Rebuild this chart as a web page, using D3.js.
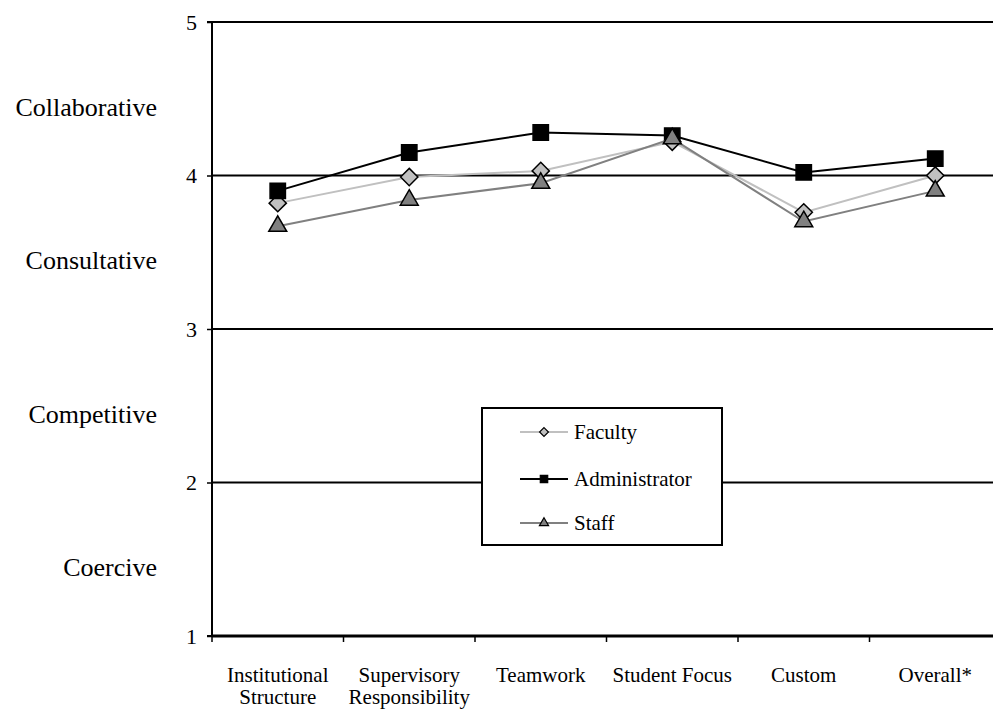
<!DOCTYPE html>
<html>
<head>
<meta charset="utf-8">
<script src="https://cdn.jsdelivr.net/npm/d3@7"></script>
<style>
  html, body { margin: 0; padding: 0; background: #fff; }
  svg text { font-family: "Liberation Serif", "Times New Roman", Times, "DejaVu Serif", serif !important; }
</style>
</head>
<body>
<svg id="chart" width="993" height="711"></svg>
<script>
const categories = ["Institutional Structure", "Supervisory Responsibility", "Teamwork", "Student Focus", "Custom", "Overall*"];
const categoryLines = [["Institutional", "Structure"], ["Supervisory", "Responsibility"], ["Teamwork"], ["Student Focus"], ["Custom"], ["Overall*"]];
const faculty = [3.82, 3.99, 4.03, 4.22, 3.76, 4.00];
const administrator = [3.90, 4.15, 4.28, 4.26, 4.02, 4.11];
const staff = [3.67, 3.84, 3.95, 4.24, 3.70, 3.90];
const yTicks = [1, 2, 3, 4, 5];
const levelLabels = ["Coercive", "Competitive", "Consultative", "Collaborative"];
const levelValues = [1, 2, 3, 4];
const seriesNames = ["Faculty", "Administrator", "Staff"];

const FONT = '"Liberation Serif", "Times New Roman", Times, "DejaVu Serif", serif';
const svg = d3.select("#chart");
const x = d3.scaleBand().domain(categories).range([212, 1001]).padding(0);
const y = d3.scaleLinear().domain([1, 5]).range([636, 22]);

const series = [
  { name: seriesNames[0], values: faculty, line: "#c0c0c0", fill: "#c0c0c0", shape: d3.symbolDiamond2 },
  { name: seriesNames[1], values: administrator, line: "#000000", fill: "#000000", shape: d3.symbolSquare2 },
  { name: seriesNames[2], values: staff, line: "#808080", fill: "#808080", shape: d3.symbolTriangle2 }
];

// gridlines
svg.append("g").selectAll("line").data(yTicks.filter(d => d > 1)).join("line")
  .attr("x1", x.range()[0]).attr("x2", x.range()[1])
  .attr("y1", d => y(d)).attr("y2", d => y(d))
  .attr("stroke", "#000").attr("stroke-width", 2);

// y axis
const yAxis = d3.axisLeft(y).tickValues(yTicks).tickFormat(d3.format("d")).tickSize(5).tickPadding(10);
const yg = svg.append("g").attr("transform", `translate(${x.range()[0]},0)`).call(yAxis)
  .attr("font-family", FONT).attr("font-size", 22);
yg.select(".domain").attr("stroke", "#000").attr("stroke-width", 2).attr("d", `M-5,${y(5)}H0V${y(1)}H-5`);
yg.selectAll(".tick line").attr("stroke", "#000").attr("stroke-width", 1.5);
yg.selectAll(".tick text").attr("fill", "#000");

// level labels
svg.append("g").attr("font-family", FONT).selectAll("text").data(levelValues).join("text")
  .attr("x", 157).attr("y", d => y(d + 0.5) + 17)
  .attr("text-anchor", "end").attr("font-size", 26).attr("fill", "#000")
  .text((d, i) => levelLabels[i]);

// x axis
const xg = svg.append("g").attr("transform", `translate(0,${y(1)})`).attr("font-family", FONT);
xg.append("line").attr("x1", x.range()[0]).attr("x2", x.range()[1]).attr("y1", 0).attr("y2", 0)
  .attr("stroke", "#000").attr("stroke-width", 3);
xg.selectAll("line.tk").data(categories).join("line").attr("class", "tk")
  .attr("x1", d => x(d)).attr("x2", d => x(d)).attr("y1", 0).attr("y2", 6)
  .attr("stroke", "#000").attr("stroke-width", 1.5);
const lab = xg.selectAll("text").data(categories).join("text")
  .attr("text-anchor", "middle").attr("font-size", 21).attr("fill", "#000")
  .attr("transform", d => `translate(${x(d) + x.bandwidth() / 2},0)`);
lab.each(function(d, i) {
  const t = d3.select(this);
  categoryLines[i].forEach((ln, j) => {
    t.append("tspan").attr("x", 0).attr("y", 46 + j * 21.5).text(ln);
  });
});

// series lines and markers
const lineGen = d3.line().x((d, i) => x(categories[i]) + x.bandwidth() / 2).y(d => y(d));
series.forEach(s => {
  svg.append("path").datum(s.values).attr("d", lineGen)
    .attr("fill", "none").attr("stroke", s.line).attr("stroke-width", 2);
  svg.append("g").selectAll("path").data(s.values).join("path")
    .attr("d", d3.symbol().type(s.shape).size(s.shape === d3.symbolTriangle2 ? 230 : (s.shape === d3.symbolDiamond2 ? 190 : 300)))
    .attr("transform", (d, i) => `translate(${x(categories[i]) + x.bandwidth() / 2},${y(d)})`)
    .attr("fill", s.fill).attr("stroke", "#000").attr("stroke-width", 1.5);
});

// legend
const lg = svg.append("g").attr("transform", "translate(482,408)").attr("font-family", FONT);
lg.append("rect").attr("width", 240).attr("height", 137).attr("fill", "#fff").attr("stroke", "#000").attr("stroke-width", 2);
const rowY = [24, 71, 115];
series.forEach((s, i) => {
  const r = lg.append("g").attr("transform", `translate(0,${rowY[i]})`);
  r.append("line").attr("x1", 38).attr("x2", 86).attr("stroke", s.line).attr("stroke-width", 2);
  r.append("path").attr("d", d3.symbol().type(s.shape).size(s.shape === d3.symbolTriangle2 ? 60 : (s.shape === d3.symbolDiamond2 ? 50 : 70)))
    .attr("transform", "translate(62,0)").attr("fill", s.fill).attr("stroke", "#000").attr("stroke-width", 1.2);
  r.append("text").attr("x", 92).attr("y", 7).attr("font-size", 21).attr("fill", "#000").text(s.name);
});
</script>
</body>
</html>
